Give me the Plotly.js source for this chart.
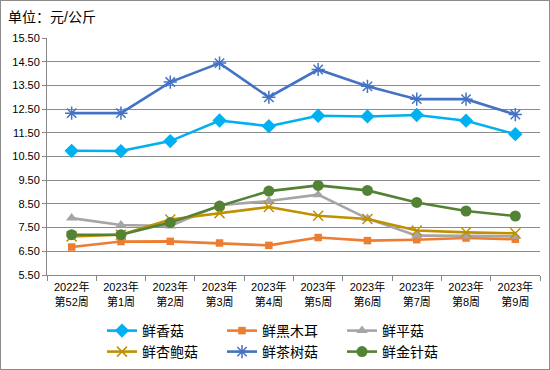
<!DOCTYPE html>
<html><head><meta charset="utf-8">
<script src="https://cdn.plot.ly/plotly-3.0.1.min.js"></script>
<style>
html,body{margin:0;padding:0;background:#fff;}
#wrap{position:relative;width:550px;height:370px;}
#chart{width:550px;height:370px;}
#border{position:absolute;left:0;top:0;width:550px;height:370px;box-sizing:border-box;border:1px solid #8c8c8c;pointer-events:none;}
</style></head>
<body><div id="wrap"><div id="chart"></div><div id="border"></div></div>
<script>
const categories = ['2022年<br>第52周','2023年<br>第1周','2023年<br>第2周','2023年<br>第3周','2023年<br>第4周','2023年<br>第5周','2023年<br>第6周','2023年<br>第7周','2023年<br>第8周','2023年<br>第9周'];
const xiangGu   = [10.74,10.73,11.15,12.02,11.78,12.22,12.19,12.25,12.01,11.44];
const heiMuEr   = [6.68,6.91,6.92,6.85,6.75,7.08,6.95,6.99,7.06,7.01];
const pingGu    = [7.90,7.61,7.57,8.44,8.62,8.89,7.88,7.16,7.15,7.13];
const xingBaoGu = [7.13,7.20,7.84,8.11,8.37,8.00,7.86,7.38,7.30,7.26];
const chaShuGu  = [12.33,12.33,13.64,14.44,13.00,14.17,13.46,12.92,12.92,12.27];
const jinZhenGu = [7.20,7.20,7.71,8.41,9.04,9.28,9.07,8.56,8.20,7.99];
const seriesNames = ['鲜香菇','鲜黑木耳','鲜平菇','鲜杏鲍菇','鲜茶树菇','鲜金针菇'];
const yTicks = [5.5,6.5,7.5,8.5,9.5,10.5,11.5,12.5,13.5,14.5,15.5];

const FONT = 'Liberation Sans, Noto Sans CJK SC, sans-serif';
function tr(name, y, color, symbol, size, legend, mline){
  return {type:'scatter', mode:'lines+markers', name:name, x:categories, y:y,
    line:{color:color, width:2.6},
    marker:{symbol:symbol, size:size, color:color, line:{color:mline||color, width: mline?1.5:0}},
    legend:legend};
}
const data = [
  tr(seriesNames[0], xiangGu, '#00B0F0', 'diamond', 11, 'legend'),
  tr(seriesNames[1], heiMuEr, '#ED7D31', 'square', 7.5, 'legend'),
  tr(seriesNames[2], pingGu, '#A5A5A5', 'triangle-up', 10, 'legend'),
  tr(seriesNames[3], xingBaoGu, '#BF9000', 'x-thin-open', 10, 'legend2', '#D4A20A'),
  tr(seriesNames[4], chaShuGu, '#4472C4', 'asterisk-open', 11, 'legend2', '#7598DA'),
  tr(seriesNames[5], jinZhenGu, '#548235', 'circle', 11, 'legend2')
];
const legBase = {orientation:'h', xref:'container', yref:'container', xanchor:'left', yanchor:'middle',
  entrywidth:75, entrywidthmode:'pixels', font:{family:FONT, size:14, color:'#000'}, bgcolor:'rgba(0,0,0,0)', itemwidth:30, tracegroupgap:0};
const layout = {
  width:550, height:370,
  margin:{l:46.5, r:9.5, t:37.5, b:95.3},
  paper_bgcolor:'#fff', plot_bgcolor:'#fff',
  font:{family:FONT, color:'#000'},
  title:{text:'单位：元/公斤', xref:'container', yref:'container', x:8/550, xanchor:'left', y:1-17/370, yanchor:'middle', font:{family:FONT, size:14, color:'#000'}},
  xaxis:{type:'category', range:[-0.5,9.5], showgrid:false, showline:true, linecolor:'#888', linewidth:1,
    ticks:'outside', tickson:'boundaries', ticklen:5, tickcolor:'#888', ticklabelstandoff:2, tickfont:{family:FONT, size:11, color:'#000'}, fixedrange:true},
  yaxis:{range:[5.5,15.5], tickvals:yTicks, ticktext:yTicks.map(v=>v.toFixed(2)), showgrid:true, gridcolor:'#8c8c8c', gridwidth:1,
    showline:true, linecolor:'#888', ticks:'outside', ticklen:4, tickcolor:'#888', zeroline:false,
    tickfont:{family:FONT, size:11, color:'#000'}, fixedrange:true},
  showlegend:true,
  legend:Object.assign({}, legBase, {x:102/550, y:1-331/370}),
  legend2:Object.assign({}, legBase, {x:102/550, y:1-352/370})
};
Plotly.newPlot('chart', data, layout, {displayModeBar:false, staticPlot:true});
</script></body></html>
